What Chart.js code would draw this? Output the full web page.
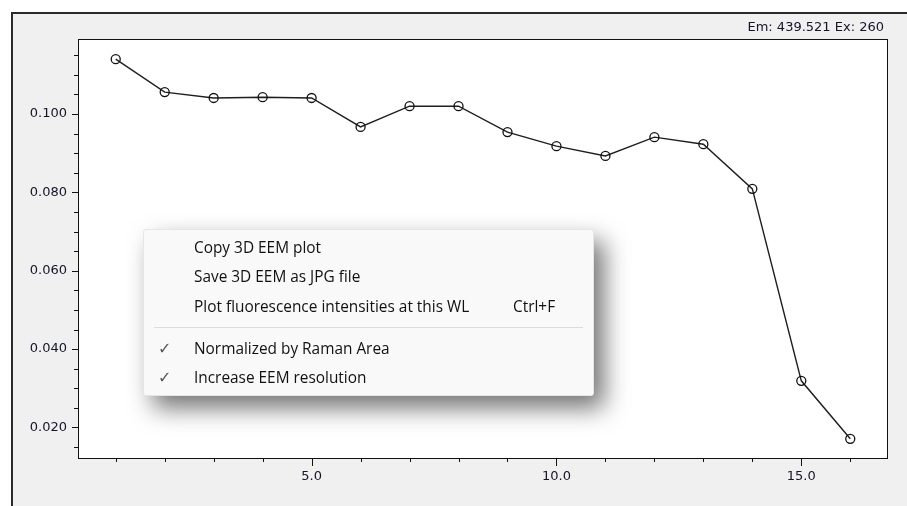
<!DOCTYPE html>
<html>
<head>
<meta charset="utf-8">
<script src="https://cdn.jsdelivr.net/npm/chart.js@4.4.1/dist/chart.umd.min.js"></script>
<style>
	html, body { margin: 0; padding: 0; background: #fff; }
	#wrap { position: relative; width: 907px; height: 506px; overflow: hidden; }
	#header {
		position: absolute; right: 23px; top: 19px;
		font: 13px "DejaVu Sans", sans-serif; color: #14142a; white-space: nowrap;
	}
	#menu {
		position: absolute; left: 143px; top: 229px; width: 449px; height: 165px;
		background: #f9f9f9; border: 1px solid #e6e6e6; border-radius: 3px;
		box-shadow: 10px 12px 24px rgba(0, 0, 0, 0.55);
		font: 15.4px "Open Sans", sans-serif; color: #111;
	}
	.item { position: absolute; left: 50px; height: 20px; line-height: 20px; white-space: nowrap; }
	.check { position: absolute; left: 14px; height: 20px; line-height: 20px; font: 16px "DejaVu Sans", sans-serif; color: #555; }
	.key { position: absolute; left: 369px; height: 20px; line-height: 20px; }
	#sep { position: absolute; left: 10px; width: 429px; top: 97px; height: 1px; background: #dcdcdc; }
</style>
</head>
<body>
<div id="wrap">
	<canvas id="plot" width="907" height="506"></canvas>
	<div id="header">Em: 439.521 Ex: 260</div>
	<div id="menu">
		<div class="item" style="top:8px">Copy 3D EEM plot</div>
		<div class="item" style="top:37px">Save 3D EEM as JPG file</div>
		<div class="item" style="top:67px">Plot fluorescence intensities at this WL</div>
		<div class="key" style="top:67px">Ctrl+F</div>
		<div id="sep"></div>
		<div class="check" style="top:109px">✓</div>
		<div class="item" style="top:109px">Normalized by Raman Area</div>
		<div class="check" style="top:138px">✓</div>
		<div class="item" style="top:138px">Increase EEM resolution</div>
	</div>
</div>
<script>
// x positions and fluorescence intensities
const xValues = [1, 2, 3, 4, 5, 6, 7, 8, 9, 10, 11, 12, 13, 14, 15, 16];
const intensity = [0.1140, 0.1056, 0.1041, 0.1043, 0.1041, 0.0967, 0.1020, 0.1020,
	0.0954, 0.0918, 0.0893, 0.0941, 0.0923, 0.0809, 0.0319, 0.0171];

// labelled ticks
const xLabels = [5, 10, 15];
const yLabels = [0.02, 0.04, 0.06, 0.08, 0.1];

function isLabelled(list, v) {
	return list.some((t) => Math.abs(t - v) < 1e-6);
}

// grey panel, frame and white plot area
const panelPlugin = {
	id: "panel",
	beforeDraw(chart) {
		const ctx = chart.ctx;
		const a = chart.chartArea;
		ctx.save();
		ctx.fillStyle = "#ffffff";
		ctx.fillRect(0, 0, chart.width, chart.height);
		ctx.fillStyle = "#f0f0f0";
		ctx.fillRect(12, 12, chart.width - 12, chart.height - 12);
		ctx.strokeStyle = "#2a2a2a";
		ctx.lineWidth = 2;
		ctx.beginPath();
		ctx.moveTo(12, chart.height);
		ctx.lineTo(12, 13);
		ctx.lineTo(chart.width, 13);
		ctx.stroke();
		ctx.fillStyle = "#ffffff";
		ctx.fillRect(a.left, a.top, a.right - a.left, a.bottom - a.top);
		ctx.restore();
	},
	afterDraw(chart) {
		const ctx = chart.ctx;
		const a = chart.chartArea;
		ctx.save();
		ctx.strokeStyle = "#111";
		ctx.lineWidth = 1;
		ctx.strokeRect(a.left - 0.5, a.top - 0.5, a.right - a.left + 1, a.bottom - a.top + 1);
		// tick marks, long for labelled ones
		const xs = chart.scales.x;
		xs.ticks.forEach((t) => {
			const px = Math.round(xs.getPixelForValue(t.value)) + 0.5;
			const len = isLabelled(xLabels, t.value) ? 8 : 4;
			ctx.beginPath();
			ctx.moveTo(px, a.bottom);
			ctx.lineTo(px, a.bottom + len);
			ctx.stroke();
		});
		const ys = chart.scales.y;
		ys.ticks.forEach((t) => {
			const py = Math.round(ys.getPixelForValue(t.value)) + 0.5;
			const len = isLabelled(yLabels, t.value) ? 7 : 5;
			ctx.beginPath();
			ctx.moveTo(a.left, py);
			ctx.lineTo(a.left - len, py);
			ctx.stroke();
		});
		ctx.restore();
	},
};

const ctx = document.getElementById("plot").getContext("2d");
const chart = new Chart(ctx, {
	type: "line",
	data: {
		datasets: [
			{
				data: xValues.map((x, i) => ({ x: x, y: intensity[i] })),
				borderColor: "#1e1e1e",
				borderWidth: 1.4,
				pointRadius: 4.5,
				pointBorderColor: "#111",
				pointBorderWidth: 1.3,
				pointBackgroundColor: "rgba(0,0,0,0)",
				tension: 0,
			},
		],
	},
	plugins: [panelPlugin],
	options: {
		responsive: false,
		animation: false,
		layout: { padding: { top: 40, right: 20, left: 0, bottom: 0 } },
		plugins: {
			legend: { display: false },
			tooltip: { enabled: false },
		},
		scales: {
			x: {
				type: "linear",
				min: 0.25,
				max: 16.75,
				afterFit: (s) => { s.height = 48; },
				border: { display: false },
				grid: { display: false, drawTicks: false },
				ticks: {
					stepSize: 1,
					includeBounds: false,
					autoSkip: false,
					maxRotation: 0,
					padding: 11,
					color: "#14142a",
					font: { family: "DejaVu Sans", size: 13 },
					callback: (v) => (isLabelled(xLabels, v) ? v.toFixed(1) : ""),
				},
			},
			y: {
				min: 0.0122,
				max: 0.1189,
				afterFit: (s) => { s.width = 79; },
				border: { display: false },
				grid: { display: false, drawTicks: false },
				ticks: {
					stepSize: 0.005,
					includeBounds: false,
					autoSkip: false,
					padding: 12,
					color: "#14142a",
					font: { family: "DejaVu Sans", size: 13 },
					callback: (v) => (isLabelled(yLabels, v) ? v.toFixed(3) : ""),
				},
			},
		},
	},
});
</script>
</body>
</html>
